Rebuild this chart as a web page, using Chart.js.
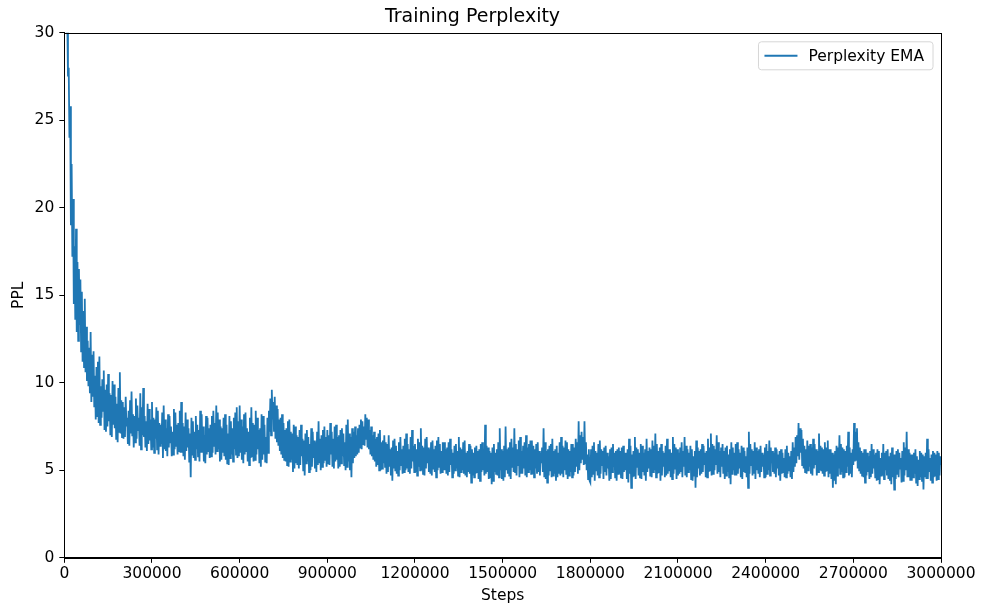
<!DOCTYPE html>
<html>
<head>
<meta charset="utf-8">
<script src="https://cdn.jsdelivr.net/npm/chart.js"></script>
<style>
  html, body { margin: 0; padding: 0; background: #fff; }
  #wrap { width: 981px; height: 605px; }
</style>
</head>
<body>
<div id="wrap"><canvas id="c" width="981" height="605"></canvas></div>
<script>
// ---- data ----
const chartTitle = "Training Perplexity";
const xAxisTitle = "Steps";
const yAxisTitle = "PPL";
const seriesLabel = "Perplexity EMA";
const stepInterval = 2500; // one sample every 2500 steps, from step 0 to 3,000,000
const xTicks = [0, 300000, 600000, 900000, 1200000, 1500000, 1800000, 2100000, 2400000, 2700000, 3000000];
const yTicks = [0, 5, 10, 15, 20, 25, 30];

// perplexity EMA samples, 40 per 100k steps
const ppl = [
  // 0 - 97.5k
  80, 40, 34, 30, 31, 27.5, 28, 24, 25.8, 19, 22.5, 17.2, 20.5, 14.5, 17.8, 13.6, 18.8, 12.9, 16.9, 12.4,
  16.5, 13.3, 15.9, 11.8, 15.2, 11.2, 14.1, 10.9, 14.8, 10.6, 13.2, 10.1, 12.4, 9.8, 12.0, 9.4, 12.9, 8.9, 11.6, 9.2,
  // 100k
  11.8, 8.6, 10.4, 7.9, 10.9, 8.1, 11.2, 7.7, 11.5, 7.6, 9.8, 8.0, 10.2, 8.4, 10.7, 7.3, 9.6, 7.2, 9.9, 7.5,
  10.5, 7.8, 9.4, 7.0, 9.3, 6.9, 10.1, 7.6, 9.9, 7.4, 9.2, 6.8, 8.8, 6.6, 9.7, 7.2, 10.6, 7.1, 9.0, 6.9,
  // 200k
  8.9, 6.8, 8.6, 6.9, 9.2, 7.5, 8.0, 6.5, 8.4, 6.4, 9.0, 7.1, 9.5, 7.0, 8.2, 6.3, 8.1, 6.6, 9.1, 6.8,
  8.7, 7.3, 8.0, 6.4, 9.4, 6.2, 8.6, 7.0, 9.7, 6.9, 8.1, 6.3, 7.8, 6.1, 8.8, 6.5, 8.5, 6.7, 7.9, 6.2,
  // 300k
  8.9, 6.3, 8.0, 6.0, 7.9, 6.8, 8.6, 6.2, 8.4, 5.9, 7.7, 6.4, 7.6, 6.5, 8.3, 5.7, 8.7, 6.2, 7.9, 6.1,
  7.4, 5.8, 8.2, 6.3, 8.1, 6.6, 7.5, 5.8, 7.2, 5.9, 8.5, 6.2, 8.3, 6.4, 7.6, 5.9, 7.7, 6.1, 8.4, 6.0,
  // 400k
  8.9, 6.0, 7.7, 5.8, 7.5, 5.6, 8.3, 6.1, 7.9, 6.3, 7.4, 5.5, 7.1, 4.6, 8.0, 5.9, 7.8, 5.7, 7.2, 5.6,
  8.1, 6.2, 7.6, 5.8, 7.3, 5.5, 8.4, 6.0, 8.2, 6.0, 7.5, 5.5, 7.0, 5.4, 8.1, 5.9, 8.0, 6.1, 7.4, 5.7,
  // 500k
  7.6, 5.8, 8.1, 6.0, 8.4, 6.4, 7.7, 5.9, 8.7, 6.1, 8.3, 6.2, 7.9, 5.5, 7.5, 5.6, 7.4, 6.0, 8.0, 5.8,
  8.2, 5.6, 7.6, 5.4, 7.1, 5.3, 8.1, 5.7, 7.8, 5.9, 7.4, 5.5, 8.0, 6.2, 8.3, 5.9, 8.6, 5.7, 7.8, 5.8,
  // 600k
  8.7, 6.0, 7.9, 5.6, 7.5, 5.4, 8.2, 5.9, 8.3, 6.1, 7.4, 5.5, 7.2, 5.3, 8.0, 5.7, 8.6, 5.8, 7.7, 5.5,
  7.6, 5.6, 8.4, 5.9, 8.0, 6.2, 7.3, 5.4, 7.4, 5.2, 8.2, 5.6, 8.1, 5.9, 7.6, 5.5, 6.9, 5.4, 8.0, 6.0,
  // 700k
  8.4, 7.2, 9.1, 7.0, 9.6, 7.9, 8.9, 7.2, 9.2, 6.8, 8.7, 6.6, 8.5, 6.4, 7.9, 6.1, 8.0, 5.9, 8.2, 5.7,
  7.7, 5.6, 7.3, 5.5, 7.4, 5.3, 7.8, 5.2, 7.9, 5.5, 7.2, 5.6, 7.1, 4.9, 7.6, 5.1, 7.5, 5.4, 7.0, 5.3,
  // 800k
  6.9, 5.1, 7.3, 5.3, 7.6, 5.8, 6.8, 5.0, 6.7, 4.7, 7.1, 5.4, 7.3, 5.5, 6.9, 4.9, 6.5, 5.0, 7.4, 5.2,
  7.2, 5.7, 6.7, 5.1, 6.6, 4.9, 7.2, 5.3, 7.8, 5.4, 6.8, 5.0, 7.0, 5.2, 7.3, 5.4, 7.5, 5.6, 6.9, 5.2,
  // 900k
  7.3, 5.4, 7.0, 5.3, 7.7, 5.9, 7.2, 5.2, 6.8, 5.1, 7.5, 5.5, 7.6, 5.6, 6.9, 5.1, 7.0, 5.2, 7.3, 5.4,
  7.4, 5.8, 7.1, 5.3, 6.6, 5.0, 7.6, 5.2, 7.9, 5.5, 7.1, 5.0, 6.9, 4.6, 7.4, 5.4, 7.2, 5.7, 7.5, 5.8,
  // 1.0M
  7.0, 5.9, 7.4, 6.0, 7.6, 6.3, 7.9, 6.2, 7.8, 6.5, 7.5, 6.4, 8.2, 6.8, 8.0, 6.3, 7.9, 6.2, 7.3, 5.9,
  7.5, 5.8, 7.0, 5.6, 7.2, 5.5, 6.8, 5.2, 6.9, 5.3, 7.1, 5.0, 7.3, 5.0, 6.6, 5.1, 6.7, 5.4, 7.0, 5.2,
  // 1.1M
  6.6, 4.8, 6.5, 4.9, 7.0, 5.2, 6.2, 4.7, 6.3, 4.4, 6.7, 5.1, 6.8, 5.0, 6.4, 4.8, 6.1, 4.7, 6.6, 5.0,
  6.9, 5.3, 6.2, 4.8, 6.4, 4.9, 6.8, 5.0, 7.1, 5.1, 6.5, 4.9, 6.2, 4.8, 6.9, 5.1, 7.3, 5.5, 6.4, 4.9,
  // 1.2M
  6.5, 4.9, 6.2, 4.7, 6.8, 5.2, 6.6, 5.0, 7.4, 5.0, 6.4, 4.8, 6.3, 4.7, 6.8, 5.1, 6.9, 5.4, 6.3, 4.9,
  6.2, 4.8, 6.6, 4.7, 6.7, 5.1, 6.2, 4.9, 6.4, 4.6, 6.7, 5.0, 6.9, 5.2, 6.5, 4.8, 6.1, 4.9, 6.6, 5.0,
  // 1.3M
  6.6, 5.0, 6.2, 4.8, 6.3, 4.7, 6.6, 4.9, 6.8, 5.3, 6.2, 4.6, 6.0, 4.8, 6.4, 5.0, 6.5, 5.1, 6.1, 4.7,
  6.9, 4.6, 6.3, 4.9, 6.2, 5.0, 6.6, 4.8, 6.7, 4.7, 6.0, 4.6, 6.1, 4.9, 6.5, 4.8, 6.4, 4.3, 6.2, 4.7,
  // 1.4M
  6.0, 4.6, 6.3, 4.8, 6.4, 4.9, 6.1, 4.5, 6.2, 4.4, 6.5, 4.9, 6.6, 5.0, 6.2, 4.7, 7.6, 4.8, 6.4, 4.9,
  6.3, 4.5, 6.1, 4.6, 6.0, 4.2, 6.3, 4.4, 6.5, 4.9, 6.0, 4.8, 6.2, 4.7, 6.6, 4.6, 7.4, 5.0, 6.2, 4.5,
  // 1.5M
  6.1, 4.4, 6.4, 4.6, 7.5, 5.0, 6.2, 4.8, 6.3, 4.7, 6.6, 4.5, 6.8, 5.2, 6.3, 4.9, 7.4, 4.9, 6.5, 4.7,
  6.2, 5.3, 6.7, 4.6, 6.9, 4.8, 6.1, 4.8, 6.4, 5.1, 6.6, 4.7, 7.0, 4.6, 6.3, 4.9, 6.5, 5.0, 6.7, 4.8,
  // 1.6M
  6.7, 4.8, 6.4, 4.6, 6.2, 5.1, 6.5, 4.8, 6.6, 4.9, 6.1, 4.7, 6.0, 5.4, 6.3, 4.9, 7.4, 4.6, 6.6, 4.5,
  6.1, 4.3, 6.2, 4.7, 6.4, 5.0, 6.5, 4.6, 6.8, 4.7, 6.1, 4.8, 6.2, 4.4, 6.4, 4.6, 6.0, 4.8, 6.6, 4.7,
  // 1.7M
  6.9, 4.8, 6.4, 4.6, 6.3, 5.0, 6.7, 4.8, 6.6, 4.5, 6.2, 4.7, 6.1, 4.9, 6.5, 4.6, 6.5, 4.7, 6.3, 4.9,
  6.8, 5.2, 6.6, 4.8, 7.8, 5.0, 7.0, 5.4, 7.2, 5.6, 6.9, 5.3, 7.8, 5.4, 6.6, 5.0, 5.9, 4.5, 6.2, 4.4,
  // 1.8M
  4.3, 6.2, 4.6, 6.4, 4.8, 6.6, 4.4, 6.1, 5.0, 6.0, 4.7, 6.5, 4.6, 6.7, 4.8, 6.2, 5.3, 6.1, 4.5, 6.3,
  4.9, 6.4, 4.7, 6.0, 5.1, 5.8, 4.4, 6.2, 4.5, 6.3, 4.9, 6.5, 5.2, 6.0, 4.6, 6.1, 4.4, 6.2, 4.8, 6.3,
  // 1.9M
  4.8, 6.1, 4.6, 6.3, 4.5, 6.4, 4.9, 6.0, 5.0, 6.0, 4.5, 6.2, 4.3, 6.8, 4.8, 6.4, 4.0, 5.9, 4.6, 6.1,
  4.7, 6.9, 4.5, 6.3, 5.2, 6.2, 4.7, 6.0, 4.6, 6.5, 4.5, 6.4, 4.9, 6.0, 4.7, 6.2, 4.4, 6.8, 4.9, 6.1,
  // 2.0M
  5.1, 6.3, 4.7, 6.2, 4.6, 6.7, 4.9, 6.4, 5.0, 7.1, 4.6, 6.5, 4.8, 6.1, 4.9, 6.3, 4.4, 6.5, 4.7, 6.1,
  5.2, 6.0, 4.6, 6.4, 4.7, 6.8, 4.8, 6.2, 5.0, 6.2, 4.6, 6.0, 4.5, 6.9, 4.8, 6.5, 5.1, 6.3, 4.5, 6.2,
  // 2.1M
  4.7, 6.0, 4.8, 6.3, 4.9, 6.6, 4.6, 6.1, 5.2, 6.9, 4.7, 6.4, 4.6, 6.2, 4.9, 6.0, 5.0, 6.4, 4.5, 6.2,
  4.4, 5.8, 4.7, 6.1, 4.0, 6.7, 4.6, 6.3, 5.1, 6.1, 4.7, 6.2, 4.8, 6.5, 4.9, 6.4, 5.3, 6.0, 4.6, 6.1,
  // 2.2M
  4.6, 6.8, 4.9, 6.3, 5.0, 7.1, 4.7, 6.5, 4.8, 6.4, 5.0, 6.2, 5.3, 7.0, 4.8, 6.6, 4.9, 6.1, 4.6, 6.3,
  5.2, 6.5, 4.8, 6.1, 4.5, 6.3, 4.7, 6.4, 4.9, 5.9, 4.6, 6.2, 4.2, 6.6, 4.8, 6.3, 5.0, 6.0, 4.7, 6.5,
  // 2.3M
  4.7, 6.6, 4.8, 6.2, 5.1, 6.0, 4.6, 6.4, 4.5, 6.3, 4.9, 6.1, 4.9, 5.8, 4.6, 6.3, 4.0, 7.2, 4.8, 6.5,
  5.3, 6.2, 4.7, 6.1, 4.8, 6.6, 4.5, 6.3, 5.0, 6.1, 4.8, 6.2, 4.6, 6.4, 4.9, 6.0, 5.2, 5.9, 4.6, 6.3,
  // 2.4M
  4.6, 6.5, 4.8, 6.1, 5.0, 6.7, 4.7, 6.3, 5.4, 6.1, 4.9, 6.0, 4.8, 6.3, 4.6, 6.2, 5.1, 5.9, 4.7, 6.1,
  4.4, 6.2, 4.8, 6.0, 4.9, 5.7, 4.6, 6.2, 4.6, 6.4, 4.8, 6.0, 5.0, 5.8, 4.6, 6.1, 4.5, 6.6, 4.9, 6.3,
  // 2.5M
  5.2, 6.9, 5.4, 7.0, 5.8, 7.7, 5.6, 7.4, 6.0, 7.3, 5.3, 6.8, 5.1, 6.4, 4.9, 6.2, 4.8, 6.7, 5.0, 6.4,
  5.2, 6.5, 4.8, 6.3, 4.7, 6.8, 5.1, 6.5, 5.3, 6.2, 4.7, 6.1, 4.9, 7.1, 5.0, 6.4, 5.0, 6.3, 4.8, 6.2,
  // 2.6M
  4.7, 6.6, 4.9, 6.3, 5.0, 6.7, 4.6, 6.2, 4.8, 6.2, 4.5, 6.0, 4.0, 5.9, 4.4, 6.1, 4.2, 6.4, 4.7, 6.3,
  5.1, 7.0, 4.8, 6.5, 4.9, 6.3, 4.6, 6.2, 4.6, 6.1, 4.9, 6.4, 5.2, 7.2, 4.7, 6.3, 4.8, 6.0, 4.6, 6.2,
  // 2.7M
  5.3, 7.7, 5.5, 7.2, 5.6, 7.4, 5.1, 6.6, 5.0, 6.3, 4.8, 6.1, 4.7, 6.0, 4.6, 6.2, 4.3, 6.2, 4.7, 6.0,
  4.9, 5.8, 4.5, 6.1, 4.6, 6.5, 4.8, 6.2, 5.1, 5.9, 4.6, 6.0, 4.4, 6.2, 4.5, 6.1, 4.2, 5.7, 4.7, 6.0,
  // 2.8M
  4.7, 6.5, 4.5, 6.0, 5.0, 6.1, 4.7, 6.2, 4.5, 5.8, 4.4, 6.0, 4.2, 6.3, 4.6, 5.9, 3.9, 5.9, 4.5, 6.1,
  4.8, 6.2, 4.6, 6.0, 5.1, 5.7, 4.3, 6.1, 4.4, 6.6, 4.7, 6.3, 5.0, 7.2, 4.6, 6.2, 4.6, 6.0, 4.4, 5.9,
  // 2.9M - 3.0M
  4.4, 5.9, 4.6, 6.0, 4.8, 6.2, 4.3, 5.8, 4.1, 5.6, 4.5, 6.1, 4.6, 6.0, 4.4, 5.9, 3.9, 5.8, 4.6, 6.0,
  4.5, 6.8, 4.5, 6.2, 4.9, 5.7, 4.4, 5.9, 4.3, 6.1, 4.6, 6.0, 4.7, 5.9, 4.4, 6.1, 4.5, 6.0, 4.7, 5.8,
  5.3
];

// ---- build chart ----
const FONT = "'DejaVu Sans', 'Liberation Sans', sans-serif";
const SMALL = 15.5;
const points = ppl.map((v, i) => ({ x: i * stepInterval, y: v }));

const framePlugin = {
  id: 'frame',
  afterDraw(chart) {
    const { ctx, chartArea: a } = chart;
    ctx.save();
    ctx.strokeStyle = '#000';
    ctx.lineWidth = 1;
    ctx.strokeRect(Math.round(a.left) + 0.5, Math.round(a.top) + 0.5,
                   Math.round(a.right - a.left), Math.round(a.bottom - a.top));
    // legend box (top right inside plot)
    const ds = chart.data.datasets[0];
    ctx.font = SMALL + 'px ' + FONT;
    const tw = ctx.measureText(ds.label).width;
    const boxW = 6 + 33 + 11 + tw + 9;
    const boxH = 28;
    const bx = a.right - 8 - boxW;
    const by = a.top + 9;
    ctx.beginPath();
    const r = 3;
    ctx.moveTo(bx + r, by);
    ctx.lineTo(bx + boxW - r, by);
    ctx.quadraticCurveTo(bx + boxW, by, bx + boxW, by + r);
    ctx.lineTo(bx + boxW, by + boxH - r);
    ctx.quadraticCurveTo(bx + boxW, by + boxH, bx + boxW - r, by + boxH);
    ctx.lineTo(bx + r, by + boxH);
    ctx.quadraticCurveTo(bx, by + boxH, bx, by + boxH - r);
    ctx.lineTo(bx, by + r);
    ctx.quadraticCurveTo(bx, by, bx + r, by);
    ctx.closePath();
    ctx.fillStyle = 'rgba(255,255,255,0.8)';
    ctx.fill();
    ctx.strokeStyle = '#d6d6d6';
    ctx.lineWidth = 1;
    ctx.stroke();
    ctx.beginPath();
    ctx.strokeStyle = ds.borderColor;
    ctx.lineWidth = 2;
    ctx.moveTo(bx + 6, by + boxH / 2);
    ctx.lineTo(bx + 6 + 33, by + boxH / 2);
    ctx.stroke();
    ctx.fillStyle = '#000';
    ctx.textBaseline = 'middle';
    ctx.textAlign = 'left';
    ctx.fillText(ds.label, bx + 6 + 33 + 11, by + boxH / 2 + 1);
    ctx.restore();
  }
};

new Chart(document.getElementById('c'), {
  type: 'line',
  data: {
    datasets: [{
      label: seriesLabel,
      data: points,
      borderColor: '#1f77b4',
      backgroundColor: '#1f77b4',
      borderWidth: 1.8,
      pointRadius: 0,
      tension: 0,
      fill: false
    }]
  },
  options: {
    responsive: false,
    animation: false,
    devicePixelRatio: 1,
    layout: { padding: { top: 0, right: 40, bottom: 0, left: 4 } },
    plugins: {
      legend: { display: false },
      tooltip: { enabled: false },
      title: {
        display: true,
        text: chartTitle,
        color: '#000',
        font: { family: FONT, size: 19, weight: 'normal' },
        padding: { top: 6, bottom: 4 }
      }
    },
    scales: {
      x: {
        type: 'linear',
        min: xTicks[0],
        max: xTicks[xTicks.length - 1],
        afterBuildTicks(scale) { scale.ticks = xTicks.map(v => ({ value: v })); },
        ticks: {
          color: '#000',
          font: { family: FONT, size: SMALL },
          maxRotation: 0,
          autoSkip: false,
          padding: 2,
          callback: v => String(v)
        },
        grid: { display: true, drawOnChartArea: false, drawTicks: true, tickLength: 5, color: '#000', tickWidth: 1 },
        border: { display: true, color: '#000', width: 1 },
        title: { display: true, text: xAxisTitle, color: '#000', font: { family: FONT, size: SMALL }, padding: { top: 1, bottom: 0 } }
      },
      y: {
        type: 'linear',
        min: yTicks[0],
        max: yTicks[yTicks.length - 1],
        afterBuildTicks(scale) { scale.ticks = yTicks.map(v => ({ value: v })); },
        ticks: {
          color: '#000',
          font: { family: FONT, size: SMALL },
          padding: 5,
          callback: v => String(v)
        },
        grid: { display: true, drawOnChartArea: false, drawTicks: true, tickLength: 5, color: '#000', tickWidth: 1 },
        border: { display: true, color: '#000', width: 1 },
        title: { display: true, text: yAxisTitle, color: '#000', font: { family: FONT, size: SMALL }, padding: { top: 6, bottom: 1 } }
      }
    }
  },
  plugins: [framePlugin]
});
</script>
</body>
</html>
